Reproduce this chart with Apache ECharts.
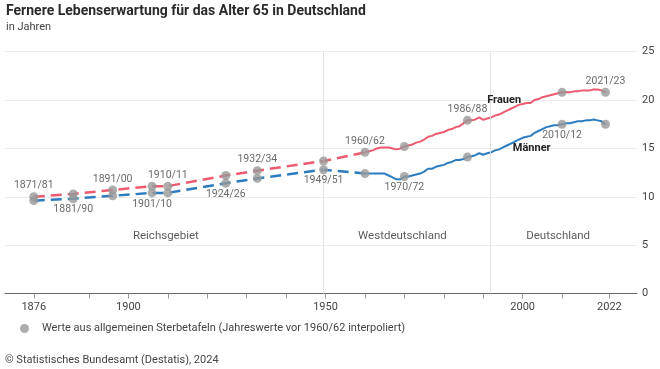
<!DOCTYPE html>
<html><head><meta charset="utf-8">
<script src="https://cdn.jsdelivr.net/npm/echarts@6/dist/echarts.min.js"></script>
<style>html,body{margin:0;padding:0;background:#fff}#c{width:660px;height:369px}</style>
</head><body><div id="c"></div>
<script>
// ---- data ----
const periodLabels = ['1871/81','1881/90','1891/00','1901/10','1910/11','1924/26','1932/34','1949/51','1960/62','1970/72','1986/88','2010/12','2021/23'];
const periodYears  = [1876, 1886, 1896, 1906, 1910, 1924.7, 1932.7, 1949.5, 1960, 1970, 1986, 2010, 2021];
const femalePeriod = [10.0, 10.3, 10.7, 11.1, 11.1, 12.2, 12.7, 13.7, 14.6, 15.2, 17.9, 20.8, 20.8];
const malePeriod   = [9.6, 9.8, 10.1, 10.4, 10.4, 11.4, 11.9, 12.8, 12.4, 12.1, 14.1, 17.5, 17.5];
const labelAbove   = [true, false, true, false, true, false, true, false, true, false, true, false, true];

// annual values of the three-year tables 1960/62 ... 2021/23, placed at the first year
const annualYears = [1960,1961,1962,1963,1964,1965,1966,1967,1968,1969,1970,1971,1972,1973,1974,1975,1976,1977,1978,1979,
  1980,1981,1982,1983,1984,1985,1986,1987,1988,1989,1990,1991,1992,1993,1994,1995,1996,1997,1998,1999,
  2000,2001,2002,2003,2004,2005,2006,2007,2008,2009,2010,2011,2012,2013,2014,2015,2016,2017,2018,2019,2020,2021];
const femaleAnnual = [14.6,14.7,14.8,15.0,15.1,15.1,15.1,15.0,14.9,15.0,15.2,15.3,15.4,15.6,15.7,15.9,16.2,16.3,16.5,16.6,
  16.7,16.9,17.0,17.2,17.3,17.6,17.9,17.9,18.0,18.2,17.95,18.1,18.2,18.4,18.5,18.7,18.9,19.1,19.3,19.5,
  19.6,19.7,19.7,20.0,20.1,20.3,20.4,20.5,20.6,20.7,20.8,20.8,20.8,20.9,20.9,21.0,21.0,21.0,21.1,21.1,21.0,20.8];
const maleAnnual = [12.4,12.4,12.4,12.4,12.4,12.4,12.2,12.0,11.8,11.8,12.1,12.1,12.2,12.3,12.4,12.6,12.9,12.9,13.1,13.2,
  13.3,13.5,13.6,13.8,13.8,13.9,14.1,14.2,14.3,14.5,14.35,14.5,14.6,14.8,14.9,15.1,15.3,15.5,15.7,15.9,
  16.1,16.2,16.3,16.6,16.8,17.0,17.2,17.3,17.4,17.4,17.5,17.6,17.6,17.7,17.8,17.8,17.9,17.9,18.0,17.9,17.8,17.5];

const xTickValues  = [1876,1890,1900,1910,1920,1930,1940,1950,1960,1970,1980,1990,2000,2010,2022];
const xLabelValues = [1876,1900,1950,2000,2022];
const regions = [{name:'Reichsgebiet', x:1909.5}, {name:'Westdeutschland', x:1969.5}, {name:'Deutschland', x:2009}];
const regionBounds = [1949.3, 1991.7];
const legendName = 'Werte aus allgemeinen Sterbetafeln (Jahreswerte vor 1960/62 interpoliert)';

// ---- chart ----
const RED = '#ec5b6f', BLUE = '#2c7cbf', GRAY = '#999999';
const FONT = 'Roboto, "Noto Sans", sans-serif';
const chart = echarts.init(document.getElementById('c'), null, {renderer:'canvas'});

const pairs = (xs, ys) => xs.map((x,i)=>[x, ys[i]]);
const dashEnd = periodYears.indexOf(1960);

const labelStyle = {fontFamily: FONT, fontSize: 10.5, color: '#444'};

chart.setOption({
  animation: false,
  textStyle: {fontFamily: FONT},
  title: [
    {text: 'Fernere Lebenserwartung für das Alter 65 in Deutschland', left: 6, top: 4, padding: 0,
     textStyle: {fontFamily: FONT, fontSize: 14, fontWeight: 'bold', color: '#2a2a2a'}},
    {text: 'in Jahren', left: 6, top: 22, padding: 0, textStyle: {fontFamily: FONT, fontSize: 11, fontWeight: 'normal', color: '#444'}},
    {text: '© Statistisches Bundesamt (Destatis), 2024', left: 5, top: 355, padding: 0,
     textStyle: {fontFamily: FONT, fontSize: 11, fontWeight: 'normal', color: '#444'}}
  ],
  legend: {
    left: 20, top: 323, padding: 0, itemWidth: 9, itemHeight: 9, icon: 'circle',
    data: [legendName],
    textStyle: {fontFamily: FONT, fontSize: 11, color: '#444', padding: [0, 0, 0, 8]}
  },
  grid: {left: 5, right: 23, top: 51.7, bottom: 75.5},
  xAxis: {
    type: 'value', min: 1868.7, max: 2029.0,
    splitLine: {show: false},
    axisLine: {lineStyle: {color: '#666', width: 1}},
    axisTick: {show: true, length: 5, lineStyle: {color: '#999'}, customValues: xTickValues},
    axisLabel: {customValues: xLabelValues, margin: 8, fontFamily: FONT, fontSize: 11, color: '#444',
                formatter: v => String(v)}
  },
  yAxis: {
    type: 'value', position: 'right', min: 0, max: 25, interval: 5,
    axisLine: {show: false}, axisTick: {show: false},
    splitLine: {lineStyle: {color: '#ebebeb'}},
    axisLabel: {margin: 5, fontFamily: FONT, fontSize: 11, color: '#444'}
  },
  series: [
    {type: 'line', name: 'Frauen_dash', data: pairs(periodYears.slice(0, dashEnd+1), femalePeriod.slice(0, dashEnd+1)),
     showSymbol: false, lineStyle: {color: RED, width: 2.5, type: [11, 6]}, z: 2, silent: true,
     markLine: {silent: true, symbol: 'none', label: {show: false},
       lineStyle: {color: '#e2e2e2', width: 1, type: 'solid'},
       data: regionBounds.map(x => ({xAxis: x}))}},
    {type: 'line', name: 'Männer_dash', data: pairs(periodYears.slice(0, dashEnd+1), malePeriod.slice(0, dashEnd+1)),
     showSymbol: false, lineStyle: {color: BLUE, width: 2.5, type: [11, 6]}, z: 2, silent: true},
    {type: 'line', name: 'Frauen', data: pairs(annualYears, femaleAnnual),
     showSymbol: false, lineStyle: {color: RED, width: 2}, z: 3, silent: true,
     markPoint: {symbol: 'rect', symbolSize: 0, silent: true,
       label: {show: true, formatter: 'Frauen', fontFamily: FONT, fontSize: 11, fontWeight: 'bold', color: '#222'},
       data: [{coord: [1995.3, 19.95]}]}},
    {type: 'line', name: 'Männer', data: pairs(annualYears, maleAnnual),
     showSymbol: false, lineStyle: {color: BLUE, width: 2}, z: 3, silent: true,
     markPoint: {symbol: 'rect', symbolSize: 0, silent: true,
       label: {show: true, formatter: 'Männer', fontFamily: FONT, fontSize: 11, fontWeight: 'bold', color: '#222'},
       data: [{coord: [2002.3, 15.0]}]}},
    {type: 'scatter', name: 'regions', data: regions.map(r => ({value: [r.x, 5.95], name: r.name})),
     symbolSize: 0, silent: true, z: 1,
     label: {show: true, position: 'inside', formatter: p => p.name, fontFamily: FONT, fontSize: 11.5, color: '#333'}},
    {type: 'scatter', name: legendName, symbolSize: 9, itemStyle: {color: GRAY}, z: 5, silent: true,
     data: periodYears.map((y,i) => ({value: [y, femalePeriod[i]], name: periodLabels[i],
       label: {show: labelAbove[i], position: 'top', distance: 1, formatter: periodLabels[i], ...labelStyle}}))},
    {type: 'scatter', name: legendName, symbolSize: 9, itemStyle: {color: GRAY}, z: 5, silent: true,
     data: periodYears.map((y,i) => ({value: [y, malePeriod[i]], name: periodLabels[i],
       label: {show: !labelAbove[i], position: 'bottom', distance: 1, formatter: periodLabels[i], ...labelStyle}}))}
  ]
});
</script></body></html>
